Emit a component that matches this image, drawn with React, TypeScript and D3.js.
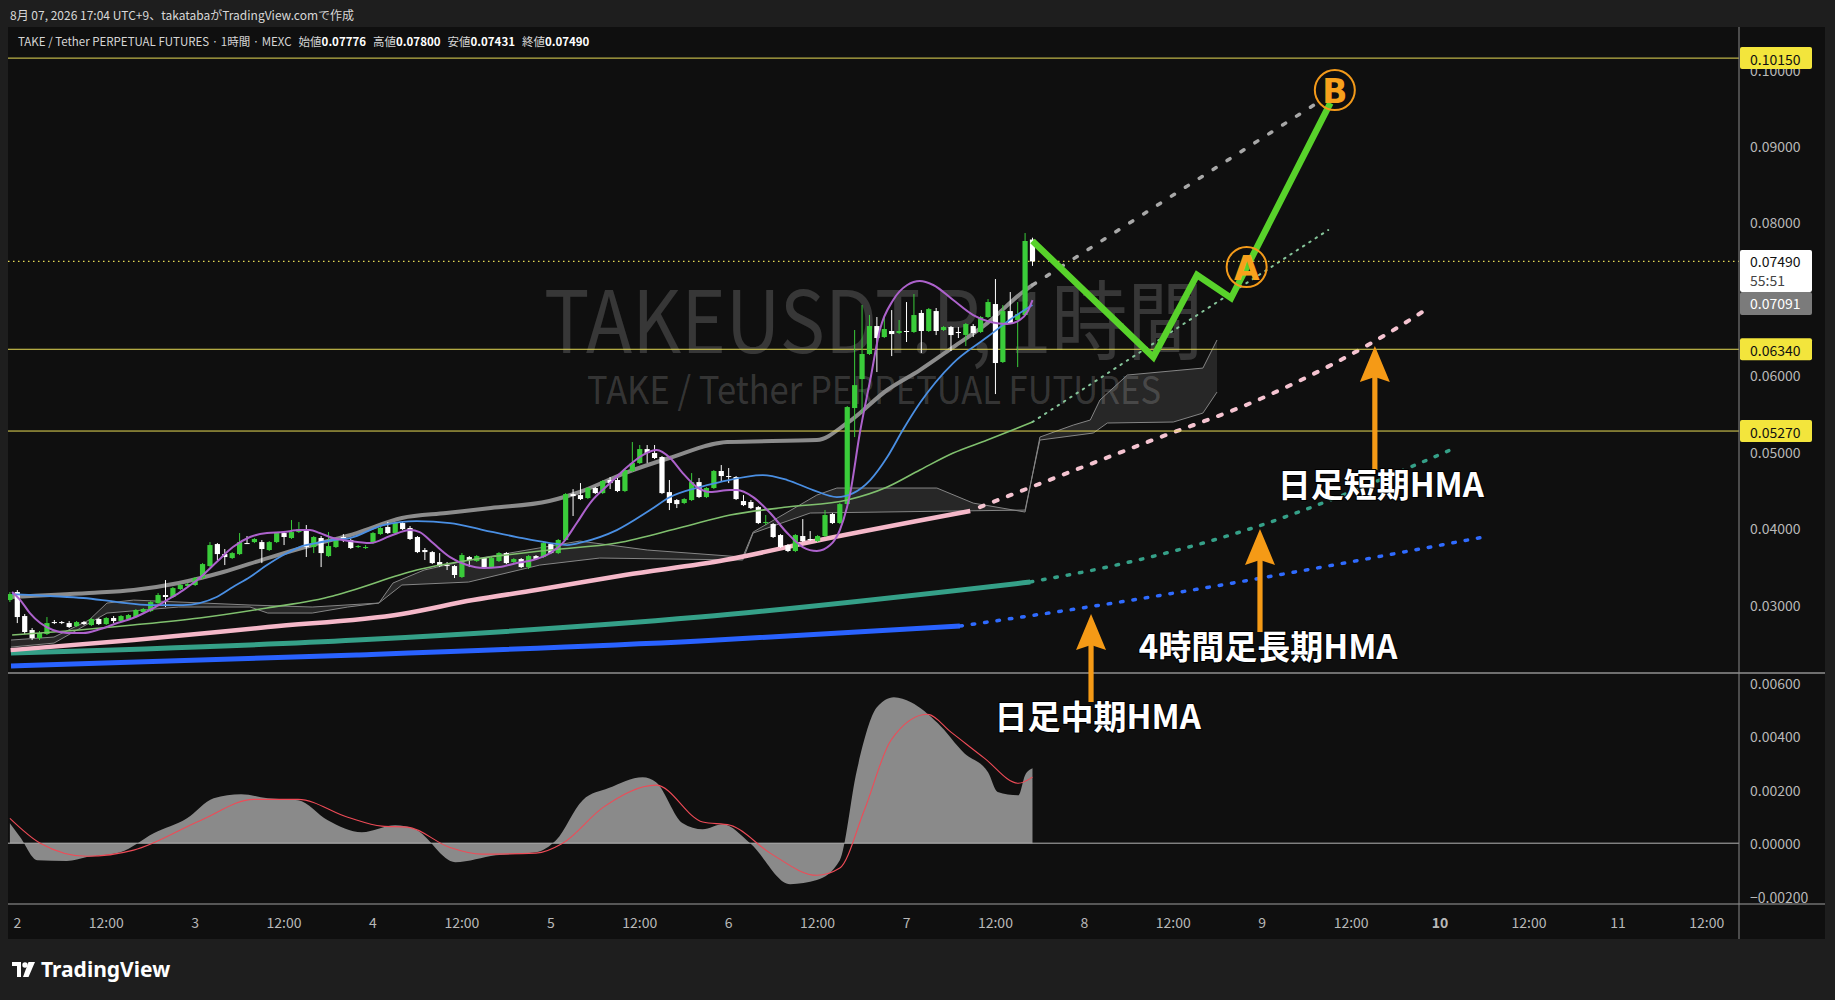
import React from 'react';
import * as d3 from 'd3';

// ---------- DATA ----------
// 1h candles, index 0 = Aug 1 23:00, last = Aug 7 17:00
const opens = [0.03058,0.03163,0.02849,0.02666,0.02561,0.02614,0.02770,0.02770,0.02757,0.02718,0.02770,0.02731,0.02810,0.02744,0.02823,0.02784,0.02810,0.02836,0.02901,0.02914,0.03019,0.03124,0.03098,0.03202,0.03242,0.03255,0.03346,0.03503,0.03791,0.03660,0.03608,0.03660,0.03804,0.03817,0.03817,0.03713,0.03817,0.03935,0.03870,0.03948,0.03987,0.03752,0.03870,0.03634,0.03752,0.03883,0.03844,0.03752,0.03739,0.03804,0.03922,0.04014,0.03935,0.04066,0.04001,0.03883,0.03713,0.03686,0.03556,0.03516,0.03503,0.03360,0.03621,0.03569,0.03608,0.03490,0.03569,0.03673,0.03556,0.03595,0.03490,0.03634,0.03621,0.03791,0.03673,0.03844,0.04445,0.04432,0.04393,0.04524,0.04458,0.04629,0.04629,0.04485,0.04747,0.04851,0.05034,0.04982,0.04930,0.04471,0.04367,0.04328,0.04367,0.04602,0.04406,0.04524,0.04747,0.04681,0.04668,0.04354,0.04341,0.04275,0.04066,0.04053,0.03909,0.03778,0.03700,0.03896,0.03857,0.03830,0.03896,0.04184,0.04066,0.04315,0.05571,0.05950,0.06278,0.06644,0.06500,0.06579,0.06553,0.06579,0.06566,0.06815,0.06579,0.06840,0.06592,0.06631,0.06566,0.06527,0.06644,0.06566,0.06762,0.06932,0.06173,0.06840,0.06723,0.06788,0.07776];
const highs = [0.03163,0.03189,0.02875,0.02692,0.02653,0.02836,0.02797,0.02784,0.02784,0.02784,0.02784,0.02823,0.02823,0.02836,0.02849,0.02862,0.02875,0.02941,0.02954,0.03045,0.03150,0.03320,0.03229,0.03268,0.03281,0.03360,0.03542,0.03817,0.03804,0.03726,0.03686,0.03935,0.03896,0.03870,0.03844,0.03830,0.03948,0.03961,0.04105,0.04079,0.04040,0.03896,0.03896,0.03948,0.03870,0.03922,0.03857,0.03778,0.03778,0.03948,0.04014,0.04079,0.04079,0.04079,0.04027,0.03896,0.03739,0.03700,0.03673,0.03556,0.03516,0.03673,0.03634,0.03647,0.03621,0.03621,0.03686,0.03686,0.03608,0.03608,0.03647,0.03647,0.03817,0.03804,0.03857,0.04458,0.04510,0.04589,0.04537,0.04537,0.04629,0.04668,0.04655,0.04773,0.05126,0.05087,0.05087,0.05087,0.04943,0.04629,0.04380,0.04393,0.04720,0.04655,0.04537,0.04760,0.04825,0.04786,0.04681,0.04432,0.04367,0.04288,0.04171,0.04066,0.03922,0.03791,0.03922,0.04118,0.03961,0.03909,0.04236,0.04197,0.04328,0.05597,0.06592,0.06919,0.06789,0.06762,0.06762,0.06853,0.06723,0.06958,0.07063,0.06853,0.06880,0.06880,0.06644,0.06644,0.06631,0.06684,0.06670,0.06775,0.06997,0.07259,0.06919,0.07089,0.06958,0.07861,0.07800];
const lows = [0.03032,0.02757,0.02614,0.02535,0.02535,0.02601,0.02744,0.02744,0.02692,0.02705,0.02731,0.02718,0.02731,0.02731,0.02757,0.02770,0.02797,0.02823,0.02888,0.02901,0.03006,0.02967,0.03085,0.03189,0.03229,0.03242,0.03333,0.03490,0.03582,0.03516,0.03595,0.03647,0.03791,0.03804,0.03542,0.03700,0.03804,0.03778,0.03857,0.03935,0.03621,0.03673,0.03490,0.03621,0.03739,0.03817,0.03726,0.03739,0.03726,0.03791,0.03909,0.03922,0.03922,0.03974,0.03844,0.03673,0.03582,0.03529,0.03490,0.03451,0.03346,0.03346,0.03490,0.03556,0.03477,0.03477,0.03556,0.03529,0.03542,0.03477,0.03464,0.03582,0.03608,0.03660,0.03660,0.03830,0.04158,0.04367,0.04380,0.04445,0.04445,0.04511,0.04471,0.04471,0.04734,0.04838,0.04851,0.04904,0.04445,0.04236,0.04262,0.04314,0.04354,0.04393,0.04393,0.04511,0.04616,0.04589,0.04367,0.04288,0.04249,0.04053,0.04040,0.03870,0.03739,0.03686,0.03686,0.03817,0.03830,0.03817,0.03883,0.04053,0.04053,0.04301,0.05191,0.05505,0.06265,0.06042,0.06487,0.06251,0.06539,0.06435,0.06553,0.06291,0.06566,0.06526,0.06579,0.06317,0.06487,0.06382,0.06500,0.06553,0.06749,0.05754,0.06160,0.06670,0.06107,0.06775,0.07431];
const closes = [0.03137,0.02836,0.02640,0.02561,0.02627,0.02757,0.02757,0.02757,0.02705,0.02770,0.02744,0.02810,0.02744,0.02823,0.02784,0.02849,0.02862,0.02928,0.02941,0.03032,0.03124,0.03098,0.03215,0.03255,0.03268,0.03346,0.03529,0.03778,0.03660,0.03621,0.03673,0.03817,0.03797,0.03857,0.03726,0.03817,0.03935,0.03883,0.03948,0.03987,0.03752,0.03883,0.03673,0.03765,0.03857,0.03857,0.03739,0.03765,0.03752,0.03935,0.04001,0.03935,0.04066,0.03987,0.03857,0.03686,0.03686,0.03542,0.03503,0.03503,0.03386,0.03647,0.03582,0.03634,0.03490,0.03608,0.03673,0.03542,0.03595,0.03490,0.03634,0.03595,0.03804,0.03673,0.03844,0.04445,0.04419,0.04380,0.04524,0.04458,0.04616,0.04589,0.04485,0.04760,0.04851,0.05034,0.04982,0.04917,0.04458,0.04328,0.04314,0.04380,0.04602,0.04406,0.04524,0.04747,0.04681,0.04668,0.04380,0.04301,0.04262,0.04066,0.04079,0.03883,0.03752,0.03700,0.03909,0.03830,0.03844,0.03896,0.04171,0.04066,0.04314,0.05584,0.05871,0.06278,0.06644,0.06487,0.06605,0.06539,0.06579,0.06566,0.06788,0.06579,0.06866,0.06579,0.06631,0.06526,0.06553,0.06670,0.06553,0.06762,0.06958,0.06160,0.06840,0.06684,0.06801,0.07757,0.07490];

// indicator lines: [bar index, price]
const greyBand: [number, number][] = [[0,0.03098],[10.7,0.0315],[16.7,0.03189],[22.8,0.03281],[28.8,0.03425],[34.8,0.03608],[40.8,0.03778],[46.8,0.03935],[52.9,0.04132],[58.9,0.04197],[64.9,0.04262],[72.8,0.04354],[76.9,0.04472],[83,0.0472],[89,0.04917],[96.8,0.05126],[108.9,0.05152],[113,0.05375],[118.4,0.05807],[122.8,0.06068],[127.3,0.06369],[131.9,0.06683],[136.7,0.07089],[138,0.07181]];
const purpleHMA: [number, number][] = [[0.3,0.03163],[1.4,0.03058],[2.7,0.02888],[4.1,0.02757],[5.8,0.02666],[7.7,0.02627],[9.9,0.02627],[12.2,0.02679],[14.5,0.02757],[16.6,0.02823],[18.9,0.02928],[21.2,0.03058],[23.4,0.03189],[25.6,0.03346],[27.9,0.03556],[30.1,0.03752],[32.4,0.03883],[34.7,0.03935],[36.9,0.03948],[39.1,0.03974],[40.5,0.03974],[41.8,0.03935],[43.6,0.0387],[45.9,0.0383],[48.6,0.03804],[51.3,0.03896],[54,0.03974],[55.3,0.03948],[57.1,0.03804],[59.4,0.03621],[61.7,0.03516],[63.9,0.03477],[66.1,0.0349],[68.4,0.03542],[70.6,0.03582],[72.9,0.03673],[74.6,0.03804],[76.5,0.04066],[78.3,0.04328],[81,0.04589],[83.3,0.04799],[85.4,0.04956],[87.3,0.05021],[89.1,0.04917],[90.8,0.0472],[92.7,0.04537],[94.5,0.04472],[97.2,0.04498],[98.1,0.04498],[100.3,0.04406],[102.6,0.04197],[104.9,0.03935],[107,0.03752],[108.9,0.037],[110.7,0.03778],[112,0.03974],[113.4,0.04458],[114.7,0.05244],[116.1,0.05937],[117.4,0.06592],[119.2,0.06984],[121.1,0.07181],[122.8,0.07233],[124.6,0.07181],[127.3,0.06984],[130,0.06788],[132.3,0.06697],[134.6,0.0667],[136.3,0.06723],[137.3,0.06827],[138,0.06984]];
const blueMA: [number, number][] = [[0.3,0.03137],[5.4,0.03111],[9.9,0.03085],[14.5,0.03032],[18.9,0.02993],[23.4,0.02993],[25.6,0.03019],[27.9,0.03098],[30.1,0.03229],[32.4,0.0336],[34.7,0.03516],[36.9,0.03647],[39.1,0.03752],[41.4,0.03804],[43.6,0.03844],[45.9,0.0387],[50.4,0.0404],[54.9,0.04092],[59.4,0.04066],[63.9,0.03974],[68.4,0.03883],[72.9,0.03804],[75.2,0.03778],[77.3,0.03817],[81.9,0.03974],[86.4,0.04236],[89.1,0.04406],[93.1,0.04537],[95.8,0.04602],[101.6,0.04694],[104.9,0.04629],[108.4,0.04498],[111.6,0.04406],[113.8,0.04458],[116.1,0.04629],[118.4,0.0493],[120.5,0.05283],[122.8,0.05636],[127.3,0.0616],[131.9,0.065],[134.9,0.06723],[138,0.06919]];
const greenMA: [number, number][] = [[0.3,0.02601],[7.7,0.02653],[16.6,0.02731],[25.6,0.02823],[34.7,0.02954],[43.6,0.03111],[45.9,0.03176],[54.9,0.03451],[63.9,0.03608],[72.9,0.03713],[81.9,0.03804],[90.8,0.04014],[97.2,0.04171],[104.9,0.04275],[113,0.04367],[118.4,0.04537],[122.8,0.0476],[127.3,0.04982],[131.9,0.05152],[138,0.05388]];
const pinkHMA: [number, number][] = [[0.1,0.02403],[16.7,0.02535],[34.8,0.02705],[52.9,0.02875],[62.5,0.03058],[71,0.03189],[83,0.03386],[96.5,0.03582],[109.3,0.03844],[129.6,0.04223]];
const pinkProj: [number, number][] = [[130.9,0.04275],[153.5,0.05126],[168.7,0.05689],[187.6,0.06644],[191,0.06853]];
const tealHMA: [number, number][] = [[0.15,0.02364],[46.8,0.02535],[93.1,0.02836],[137.7,0.03294]];
const tealProj: [number, number][] = [[137.7,0.03294],[148.7,0.03503],[166,0.03948],[195.3,0.0506]];
const blueHMA: [number, number][] = [[0.15,0.02195],[46.8,0.02339],[93.1,0.02522],[128.2,0.02718]];
const blueProj: [number, number][] = [[128.2,0.02718],[145.5,0.02967],[198.9,0.03883]];
const greyProj: [number, number][] = [[138,0.0718],[177,0.096]];
const greenProj: [number, number][] = [[138,0.05388],[177.9,0.079]];
const spanA: [number, number][] = [[0.15,0.02535],[5.95,0.02574],[10.7,0.02797],[13.1,0.03019],[16.7,0.03058],[32.4,0.02993],[40.8,0.02967],[49.8,0.03019],[51.7,0.03281],[55.9,0.03451],[61.9,0.03582],[76.9,0.0383],[86,0.03713],[98.9,0.03621],[100.3,0.03948],[108.9,0.04432],[111.6,0.04524],[125.1,0.04524],[130,0.04327],[137,0.0421],[139,0.05191],[143.5,0.05348],[145.8,0.05414],[147.1,0.05676],[150.8,0.06003],[161,0.06094],[162.9,0.06461]];
const spanB: [number, number][] = [[0.15,0.02443],[5.95,0.02495],[13.1,0.02888],[22.8,0.02967],[32.4,0.02967],[34.8,0.02888],[40.8,0.02888],[45.6,0.02967],[49.8,0.03019],[52.9,0.03255],[61.9,0.03294],[71.5,0.03516],[79.6,0.03608],[98.9,0.03582],[100.3,0.03935],[108,0.04197],[137,0.04236],[139,0.05152],[146.2,0.05244],[148.1,0.05375],[157,0.05388],[161,0.05505],[162.9,0.0578]];
const oscHist: [number, number][] = [[0,0.00075],[1.4,0.00022],[3.7,-0.00064],[7.7,-0.00067],[10.4,-0.00052],[14.9,-0.00034],[19.4,0.00037],[23.9,0.00093],[27.5,0.00168],[31.2,0.00183],[34.8,0.00168],[38.9,0.00161],[42.9,0.00086],[47.5,0.00041],[52,0.00067],[54.7,0.00052],[60.1,-0.00071],[65.6,-0.00045],[71,-0.00034],[73.7,0.00011],[77.3,0.00161],[80.8,0.00206],[85.4,0.00247],[87.2,0.00228],[90.8,0.00075],[93.5,0.00052],[96.2,0.00071],[99.9,0],[105.3,-0.00153],[108.9,-0.00138],[112,-0.00064],[114.3,0.00273],[117,0.00508],[119.3,0.00546],[121.6,0.00527],[125.2,0.00449],[128.8,0.00336],[132,0.00265],[133.3,0.00191],[136.1,0.00179],[137,0.00254],[138,0.0028]];
const oscSignal: [number, number][] = [[0,0.00093],[4.1,0],[10.4,-0.00049],[16.7,-0.00026],[25.8,0.00086],[32.9,0.00164],[38.9,0.00164],[45.6,0.00097],[50.2,0.00064],[53.7,0.0006],[59.3,-0.00015],[63.7,-0.00041],[71,-0.00037],[74.6,0],[80.1,0.00135],[87.2,0.00217],[93.5,0.00079],[97.2,0.00067],[102.6,-0.00037],[108.9,-0.0012],[112,-0.00093],[115.3,0.00123],[118.9,0.00385],[123.8,0.00482],[127,0.00415],[131.5,0.00318],[136.1,0.00224],[138,0.00247]];

// drawings
const forecastPath: [number, number][] = [[138,0.07757],[154.3,0.06238],[160.2,0.07311],[164.8,0.0701],[178.2,0.09562]];
const circleMarks = [{ k: 166.9, p: 0.07416, label: 'A' }, { k: 178.8, p: 0.09732, label: 'B' }];
const arrowMarks = [{ k: 184.2, tip: 0.06383, tail: 0.0476 }, { k: 168.7, tip: 0.03988, tail: 0.0264 }, { k: 145.9, tip: 0.02876, tail: 0.01724 }];
const textMarks = [{ k: 185.0, p: 0.0459, text: '日足短期HMA' }, { k: 169.8, p: 0.0247, text: '4時間足長期HMA' }, { k: 146.8, p: 0.01554, text: '日足中期HMA' }];

const levels = [0.1015, 0.0634, 0.0527];
const priceTicks = [0.03, 0.04, 0.05, 0.06, 0.07, 0.08, 0.09, 0.1];
const oscTicks = [-0.002, 0, 0.002, 0.004, 0.006];
const dayLabels = ['2', '3', '4', '5', '6', '7', '8', '9', '10', '11'];
const maLabel = 0.07091;
const countdown = '55:51';

const UI = "'Noto Sans CJK JP', 'Noto Sans', sans-serif";

export default function App() {
  const L = 8, R = 1739, AX = 1825, TOP = 27, MB = 673, OB = 904, TB = 939;
  const x = d3.scaleLinear().domain([0, 216]).range([17.3, 1617.9]);
  const bx = (k: number) => x(k - 1);
  const y = d3.scaleLinear().domain([0.03, 0.09]).range([604.5, 146.0]);
  const oy = d3.scaleLinear().domain([-0.002, 0.006]).range([896.7, 682.7]);
  const smooth = (pts: [number, number][]) =>
    d3.line<[number, number]>().x(d => bx(d[0])).y(d => y(d[1])).curve(d3.curveMonotoneX)(pts) || '';
  const straight = (pts: [number, number][]) =>
    d3.line<[number, number]>().x(d => bx(d[0])).y(d => y(d[1]))(pts) || '';
  const cloudArea = (() => {
    const ks = Array.from(new Set([...spanA.map(d => d[0]), ...spanB.map(d => d[0])])).sort((a, b) => a - b);
    const ia = d3.scaleLinear().domain(spanA.map(d => d[0])).range(spanA.map(d => d[1]));
    const ib = d3.scaleLinear().domain(spanB.map(d => d[0])).range(spanB.map(d => d[1]));
    return d3.area<number>().x(k => bx(k)).y0(k => y(ia(k))).y1(k => y(ib(k)))(ks) || '';
  })();
  const oscArea = d3.area<[number, number]>().x(d => bx(d[0])).y0(oy(0)).y1(d => oy(d[1])).curve(d3.curveMonotoneX)(oscHist) || '';
  const oscLine = d3.line<[number, number]>().x(d => bx(d[0])).y(d => oy(d[1])).curve(d3.curveMonotoneX)(oscSignal) || '';
  const fmt = d3.format('.5f');
  const n = closes.length;
  const last = n - 1;
  const cy = y(closes[last]);
  const up = '#3acc3a';

  return (
    <svg width={1835} height={1000} style={{ position: 'absolute', left: 0, top: 0 }} fontFamily={UI}>
      <defs>
        <clipPath id="mainClip"><rect x={L} y={TOP} width={R - L} height={MB - TOP} /></clipPath>
        <clipPath id="oscClip"><rect x={L} y={MB} width={R - L} height={OB - MB} /></clipPath>
      </defs>
      <rect x={0} y={0} width={1835} height={1000} fill="#1e1e1e" />
      <rect x={L} y={TOP} width={AX - L} height={TB - TOP} fill="#0f0f0f" />
      <text x={10} y={14} fontSize={12} fill="#d8d8d8" dominantBaseline="central">8月 07, 2026 17:04 UTC+9、takatabaがTradingView.comで作成</text>

      {/* watermark */}
      <g fill="#ffffff" fillOpacity={0.17}>
        <text x={544} y={353} fontSize={86} textLength={659} lengthAdjust="spacingAndGlyphs">TAKEUSDT.P, 1時間</text>
        <text x={587} y={404} fontSize={38} textLength={574} lengthAdjust="spacingAndGlyphs">TAKE / Tether PERPETUAL FUTURES</text>
      </g>

      <g clipPath="url(#mainClip)">
        {/* cloud */}
        <path d={cloudArea} fill="#ffffff" fillOpacity={0.1} />
        <path d={straight(spanA)} fill="none" stroke="#858585" strokeWidth={1} />
        <path d={straight(spanB)} fill="none" stroke="#858585" strokeWidth={1} />
        {/* long HMAs */}
        <path d={smooth(blueHMA)} fill="none" stroke="#2962ff" strokeWidth={5} />
        <path d={smooth(blueProj)} fill="none" stroke="#2f6bff" strokeWidth={3.5} strokeDasharray="2.5 10" strokeLinecap="round" />
        <path d={smooth(tealHMA)} fill="none" stroke="#35a088" strokeWidth={5} />
        <path d={smooth(tealProj)} fill="none" stroke="#35a088" strokeWidth={3.5} strokeDasharray="2.5 10" strokeLinecap="round" />
        <path d={smooth(pinkHMA)} fill="none" stroke="#f5b8c9" strokeWidth={4.5} />
        <path d={smooth(pinkProj)} fill="none" stroke="#f5c4d1" strokeWidth={4} strokeDasharray="4 11" strokeLinecap="round" />
        <path d={smooth(greyBand)} fill="none" stroke="#8c8c8c" strokeWidth={4} />
        <path d={straight(greyProj)} fill="none" stroke="#a8a8a8" strokeWidth={3.5} strokeDasharray="3.5 13" strokeLinecap="round" />
        <path d={straight(greenProj)} fill="none" stroke="#86c59a" strokeWidth={2} strokeDasharray="1.5 6" strokeLinecap="round" />
        {/* levels */}
        {levels.map((v, i) => (
          <line key={i} x1={L} x2={R} y1={y(v)} y2={y(v)} stroke="#e6da55" strokeWidth={1} />
        ))}
        <line x1={L} x2={R} y1={cy} y2={cy} stroke="#e6da55" strokeWidth={1.3} strokeDasharray="1.5 3.5" />
        {/* candles */}
        {closes.map((c, i) => {
          const o = opens[i];
          const col = c >= o ? up : '#ffffff';
          const cx = bx(i);
          const top = y(Math.max(o, c));
          const h = Math.max(1, y(Math.min(o, c)) - top);
          return (
            <g key={i}>
              <line x1={cx} x2={cx} y1={y(highs[i])} y2={y(lows[i])} stroke={col} strokeWidth={1} />
              <rect x={cx - 2.6} y={top} width={5.2} height={h} fill={col} />
            </g>
          );
        })}
        {/* thin MAs */}
        <path d={smooth(greenMA)} fill="none" stroke="#80c06e" strokeWidth={1.6} />
        <path d={smooth(blueMA)} fill="none" stroke="#4a8fe3" strokeWidth={1.8} />
        <path d={smooth(purpleHMA)} fill="none" stroke="#ad62cc" strokeWidth={2} />
      </g>

      {/* oscillator */}
      <g clipPath="url(#oscClip)">
        <path d={oscArea} fill="#8a8a8a" />
        <line x1={L} x2={R} y1={oy(0)} y2={oy(0)} stroke="#b5b5b5" strokeWidth={1} />
        <path d={oscLine} fill="none" stroke="#ee4b57" strokeWidth={1.1} />
      </g>

      {/* separators */}
      <line x1={L} x2={AX} y1={MB} y2={MB} stroke="#cfcfcf" strokeWidth={1.2} />
      <line x1={L} x2={AX} y1={OB} y2={OB} stroke="#a0a0a0" strokeWidth={1.2} />
      <line x1={R} x2={R} y1={TOP} y2={TB} stroke="#8a8a8a" strokeWidth={1} />

      {/* price axis */}
      {priceTicks.filter(v => y(v) > TOP + 6 && y(v) < MB - 6).map(v => (
        <text key={v} x={1750} y={y(v)} fontSize={14} fill="#b8b8b8" dominantBaseline="central">{fmt(v)}</text>
      ))}
      {oscTicks.map(v => (
        <text key={v} x={1750} y={oy(v)} fontSize={14} fill="#b8b8b8" dominantBaseline="central">{v < 0 ? '\u2212' + fmt(-v) : fmt(v)}</text>
      ))}
      {levels.map((v, i) => (
        <g key={i}>
          <rect x={R + 1} y={y(v) - 11} width={72} height={22} rx={2} fill="#f3e53c" />
          <text x={1750} y={y(v) + 0.5} fontSize={14} fill="#111" dominantBaseline="central">{fmt(v)}</text>
        </g>
      ))}
      <rect x={R + 1} y={cy - 11.5} width={72} height={42} rx={2} fill="#ffffff" />
      <text x={1750} y={cy} fontSize={14} fill="#111" dominantBaseline="central">{fmt(closes[last])}</text>
      <text x={1750} y={cy + 19} fontSize={14} fill="#444" dominantBaseline="central">{countdown}</text>
      <rect x={R + 1} y={cy + 30.5} width={72} height={23} rx={2} fill="#7b7b7b" />
      <text x={1750} y={cy + 42} fontSize={14} fill="#ffffff" dominantBaseline="central">{fmt(maLabel)}</text>

      {/* time axis */}
      {dayLabels.map((d, i) => (
        <g key={d}>
          <text x={x(i * 24)} y={922} fontSize={14} fill="#b8b8b8" textAnchor="middle" dominantBaseline="central" fontWeight={d === '10' ? 700 : 400}>{d}</text>
          <text x={x(i * 24 + 12)} y={922} fontSize={14} fill="#b8b8b8" textAnchor="middle" dominantBaseline="central">12:00</text>
        </g>
      ))}

      {/* legend */}
      <text x={18} y={41} fontSize={11.5} fill="#d6d6d6" dominantBaseline="central">
        <tspan>TAKE / Tether PERPETUAL FUTURES · 1時間 · MEXC</tspan>
        <tspan dx={7}>始値</tspan><tspan fontWeight={700} fill="#fff">{fmt(opens[last])}</tspan>
        <tspan dx={7}>高値</tspan><tspan fontWeight={700} fill="#fff">{fmt(highs[last])}</tspan>
        <tspan dx={7}>安値</tspan><tspan fontWeight={700} fill="#fff">{fmt(lows[last])}</tspan>
        <tspan dx={7}>終値</tspan><tspan fontWeight={700} fill="#fff">{fmt(closes[last])}</tspan>
      </text>

      {/* drawings */}
      <path d={straight(forecastPath)} fill="none" stroke="#58d22b" strokeWidth={6.5} strokeLinejoin="miter" />
      {circleMarks.map(c => (
        <g key={c.label}>
          <circle cx={bx(c.k)} cy={y(c.p)} r={20} fill="none" stroke="#f39a1a" strokeWidth={2} />
          <text x={bx(c.k)} y={y(c.p) + 1} fontSize={33} fontWeight={700} fill="#f7a11c" textAnchor="middle" dominantBaseline="central" fontFamily="'DejaVu Sans', sans-serif">{c.label}</text>
        </g>
      ))}
      {arrowMarks.map((a, i) => {
        const ax = bx(a.k), ty = y(a.tip), by = y(a.tail);
        return (
          <g key={i} fill="#f59a16">
            <rect x={ax - 2.6} y={ty + 30} width={5.2} height={by - ty - 30} />
            <path d={`M${ax},${ty} L${ax + 15},${ty + 36} L${ax},${ty + 31} L${ax - 15},${ty + 36} Z`} />
          </g>
        );
      })}
      {textMarks.map((t, i) => (
        <text key={i} x={bx(t.k)} y={y(t.p)} fontSize={33} fontWeight={700} fill="#ffffff" textAnchor="middle" dominantBaseline="central" stroke="#000" strokeWidth={2} paintOrder="stroke">{t.text}</text>
      ))}

      {/* footer logo */}
      <g transform="translate(12,960)">
        <path d="M0 2 H9 V17 H5 V6 H0 Z" fill="#ffffff" />
        <circle cx={13} cy={5} r={2.7} fill="#ffffff" />
        <path d="M16.5 2 H23 L16.5 17 H11 Z" fill="#ffffff" />
      </g>
      <text x={41} y={969} fontSize={21} fontWeight={700} fill="#ffffff" dominantBaseline="central" fontFamily="'Noto Sans', sans-serif">TradingView</text>
    </svg>
  );
}
